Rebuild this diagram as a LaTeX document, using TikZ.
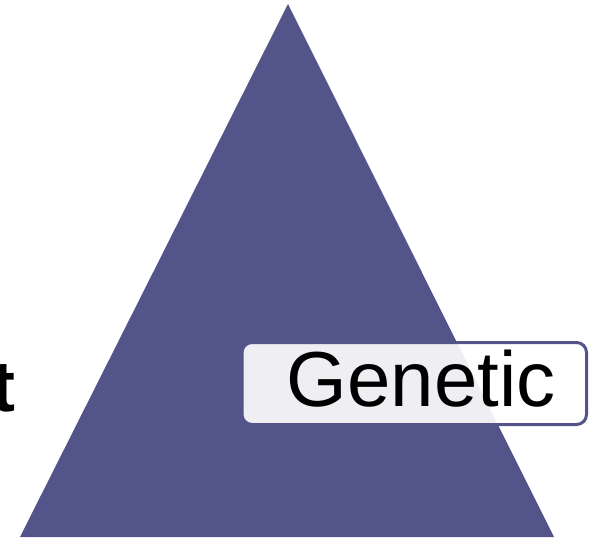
\documentclass[tikz,border=0pt]{standalone}
\usepackage{fontspec}
\setmainfont{Liberation Sans}
\definecolor{tri}{RGB}{83,84,137}
\begin{document}
\begin{tikzpicture}[x=1pt,y=-1pt,
  labelbox/.style={draw=tri,line width=3pt,rounded corners=10pt,fill=white,fill opacity=0.9,text opacity=1}]
\useasboundingbox (0,0) rectangle (589,539);
\fill[tri] (288,4) -- (554,537) -- (20,537) -- cycle;
\draw[labelbox] (242,342.5) rectangle (586.5,424.5);
\node[anchor=base,inner sep=0pt,font=\fontsize{78}{84}\selectfont] (gen) at (421,406.5) {Genetic};
\node[anchor=base east,inner sep=0pt,font=\fontsize{72}{80}\selectfont\bfseries] (t) at (16,411) {t};
\end{tikzpicture}
\end{document}
